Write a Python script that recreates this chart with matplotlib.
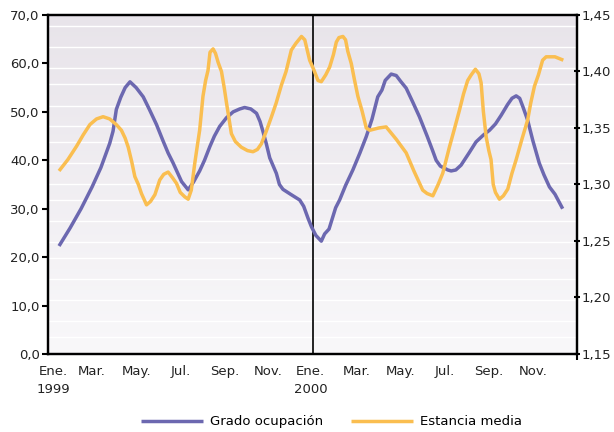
import numpy as np
import matplotlib
matplotlib.use("Agg")
import matplotlib.pyplot as plt
import matplotlib.transforms as mtransforms
from matplotlib.ticker import FuncFormatter
from matplotlib.colors import LinearSegmentedColormap

# ---- data (months since Jan 1999) ----
ocup_x = [0.5, 1.0, 1.5, 2.0, 2.4, 2.8, 2.95, 3.1, 3.3, 3.5, 3.72, 4.0, 4.32, 4.6, 4.92,
          5.22, 5.45, 5.67, 6.06, 6.36, 6.6, 6.88, 7.1, 7.34, 7.55, 7.79, 8.1, 8.4, 8.7,
          8.92, 9.2, 9.46, 9.62, 9.75, 9.9, 10.06, 10.36, 10.5, 10.66, 11.0, 11.42, 11.6,
          11.8, 11.95, 12.15, 12.4, 12.55, 12.75, 12.9, 13.05, 13.23, 13.5, 13.83, 14.15,
          14.44, 14.7, 14.96, 15.15, 15.3, 15.57, 15.8, 16.0, 16.25, 16.55, 16.85, 17.2,
          17.45, 17.61, 17.8, 18.14, 18.29, 18.5, 18.74, 19.1, 19.42, 19.75, 20.03, 20.3,
          20.56, 20.85, 21.05, 21.24, 21.4, 21.55, 21.76, 22.0, 22.29, 22.5, 22.75, 23.0,
          23.35]
ocup_y = [22.3, 26.0, 30.0, 34.5, 38.5, 43.5, 46.0, 50.5, 53.0, 55.0, 56.2, 55.0, 53.1,
          50.5, 47.4, 44.0, 41.5, 39.5, 35.6, 33.9, 35.5, 37.8, 40.0, 42.8, 45.0, 47.0,
          48.8, 50.0, 50.6, 50.9, 50.6, 49.7, 48.0, 46.0, 43.5, 40.5, 37.3, 35.0, 34.0,
          33.0, 31.8, 30.5, 28.0, 26.3, 24.5, 23.3, 24.8, 25.8, 28.0, 30.2, 31.8, 34.8,
          38.0, 41.5, 44.9, 48.5, 53.1, 54.5, 56.5, 57.8, 57.5, 56.3, 54.9, 52.0, 49.0,
          45.0, 42.0, 40.0, 38.8, 38.0, 37.8, 38.0, 39.0, 41.5, 43.8, 45.2, 46.2, 47.5,
          49.3, 51.5, 52.8, 53.3, 52.8, 51.0, 48.3, 44.0, 39.4, 37.0, 34.5, 33.0, 30.0]

est_x = [0.5, 0.9, 1.3, 1.6, 1.9, 2.2, 2.5, 2.8, 3.1, 3.33, 3.5, 3.64, 3.8, 3.94, 4.1,
         4.24, 4.47, 4.65, 4.85, 5.07, 5.25, 5.45, 5.65, 5.83, 6.0, 6.21, 6.36, 6.5, 6.66,
         6.78, 6.88, 7.03, 7.15, 7.26, 7.35, 7.49, 7.6, 7.72, 7.87, 8.0, 8.1, 8.32, 8.5,
         8.77, 9.05, 9.3, 9.5, 9.68, 9.9, 10.14, 10.35, 10.59, 10.8, 11.04, 11.25, 11.5,
         11.65, 11.87, 12.05, 12.25, 12.4, 12.6, 12.78, 12.95, 13.08, 13.2, 13.38, 13.5,
         13.6, 13.76, 13.9, 14.06, 14.25, 14.44, 14.6, 15.0, 15.34, 15.8, 16.25, 16.6,
         17.0, 17.2, 17.46, 17.7, 17.91, 18.21, 18.45, 18.67, 18.85, 19.04, 19.2, 19.39,
         19.55, 19.65, 19.75, 19.88, 20.0, 20.1, 20.2, 20.3, 20.48, 20.66, 20.86, 21.05,
         21.24, 21.5, 21.76, 21.9, 22.07, 22.25, 22.44, 22.6, 22.75, 23.0, 23.38]
est_y = [1.312, 1.322, 1.334, 1.344, 1.353, 1.358, 1.360, 1.358, 1.353, 1.348, 1.341,
         1.333, 1.320, 1.307, 1.300, 1.292, 1.282, 1.285, 1.291, 1.304, 1.309, 1.311,
         1.306, 1.301, 1.293, 1.289, 1.287, 1.295, 1.319, 1.335, 1.348, 1.378, 1.392,
         1.401, 1.417, 1.420, 1.416, 1.408, 1.400, 1.385, 1.372, 1.345, 1.338, 1.333,
         1.330, 1.329, 1.331, 1.336, 1.347, 1.360, 1.372, 1.388, 1.400, 1.419, 1.425,
         1.431, 1.428, 1.410, 1.402, 1.392, 1.391, 1.397, 1.404, 1.415, 1.426, 1.430,
         1.431, 1.428, 1.418, 1.407, 1.393, 1.378, 1.365, 1.350, 1.348, 1.350, 1.351,
         1.340, 1.328, 1.312, 1.295, 1.292, 1.290, 1.300, 1.310, 1.333, 1.350, 1.366,
         1.380, 1.392, 1.397, 1.402, 1.398, 1.390, 1.365, 1.342, 1.330, 1.322, 1.300,
         1.293, 1.287, 1.290, 1.296, 1.310, 1.322, 1.340, 1.357, 1.372, 1.387, 1.397,
         1.410, 1.413, 1.413, 1.413, 1.410]

month_ticks = [0, 2, 4, 6, 8, 10, 12, 14, 16, 18, 20, 22]
month_labels = ["Ene.\n1999", "Mar.", "May.", "Jul.", "Sep.", "Nov.",
                "Ene.\n2000", "Mar.", "May.", "Jul.", "Sep.", "Nov."]
series_names = ["Grado ocupación", "Estancia media"]

# ---- style ----
BLUE = "#6C68B0"
YELLOW = "#FABE50"
plt.rcParams["font.family"] = ["DejaVu Sans"]
FS = 9.5

fig = plt.figure(figsize=(6.14, 4.32), dpi=100)
ax = fig.add_axes([48 / 614, 78 / 432, 529 / 614, 339 / 432])
ax2 = ax.twinx()

# background gradient
cmap = LinearSegmentedColormap.from_list("bg", ["#F9F8FA", "#E8E4EA"])
grad = np.linspace(0, 1, 256).reshape(-1, 1)
ax.imshow(grad, extent=[0, 1, 0, 1], transform=ax.transAxes, cmap=cmap,
          origin="lower", aspect="auto", zorder=0)
band_lines = [0.049, 0.097, 0.159, 0.220, 0.282, 0.331, 0.392, 0.454, 0.501,
              0.5625, 0.624, 0.673, 0.732, 0.796, 0.843, 0.905, 0.9676]
for f in band_lines:
    ax.plot([0, 1], [f, f], transform=ax.transAxes, color="white", lw=1.0, zorder=1)

ax.axvline(12, color="black", lw=1.2, zorder=2)

l1, = ax.plot(ocup_x, ocup_y, color=BLUE, lw=2.5, zorder=3, solid_capstyle="butt")
l2, = ax2.plot(est_x, est_y, color=YELLOW, lw=2.5, zorder=3, solid_capstyle="butt")

ax.set_xlim(0, 24)
ax.set_ylim(0, 70)
ax2.set_ylim(1.15, 1.45)
ax.set_yticks(np.arange(0, 71, 10))
ax2.set_yticks(np.arange(1.15, 1.4501, 0.05))
ax.yaxis.set_major_formatter(FuncFormatter(lambda v, p: f"{v:.1f}".replace(".", ",")))
ax2.yaxis.set_major_formatter(FuncFormatter(lambda v, p: f"{v:.2f}".replace(".", ",")))

ax.set_xticks(month_ticks)
ax.set_xticklabels(month_labels, fontsize=FS, color="#222222", linespacing=1.45)
ax.set_xticks([0, 12, 24], minor=True)
ax.tick_params(axis="x", which="major", length=0, pad=8)
ax.tick_params(axis="x", which="minor", length=4, width=1.5, direction="out")
ax.tick_params(axis="y", length=4, width=1.5, direction="out", labelsize=FS,
               labelcolor="#222222", pad=2)
ax2.tick_params(axis="y", length=4, width=1.5, direction="inout", labelsize=FS,
                labelcolor="#222222", pad=1)

# nudge the first "Ene." label slightly right, as in the original
lbls = ax.get_xticklabels()
lbls[0].set_transform(lbls[0].get_transform() +
                      mtransforms.ScaledTranslation(5 / 100, 0, fig.dpi_scale_trans))
lbls[6].set_transform(lbls[6].get_transform() +
                      mtransforms.ScaledTranslation(-2 / 100, 0, fig.dpi_scale_trans))

for a in (ax, ax2):
    for s in a.spines.values():
        s.set_linewidth(1.6)
        s.set_color("black")
ax.set_zorder(ax2.get_zorder() - 1)
ax2.patch.set_visible(False)

fig.legend([l1, l2], series_names, loc="center", bbox_to_anchor=(0.54, 0.024),
           ncol=2, frameon=False, fontsize=FS, handlelength=4.7,
           handletextpad=0.55, columnspacing=2.1)

fig.savefig("out.png", dpi=100)
